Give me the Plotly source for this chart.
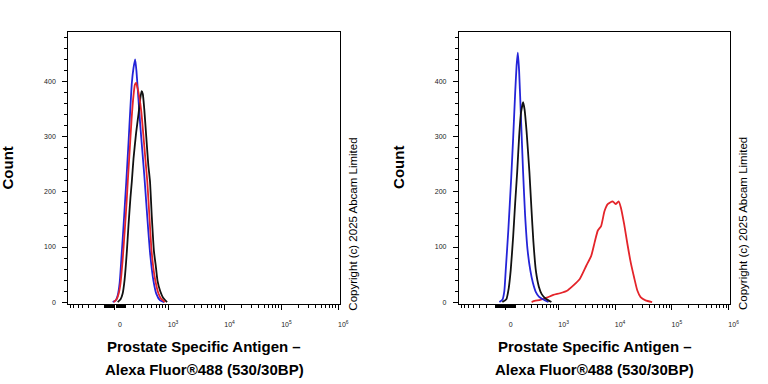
import numpy as np
import plotly.graph_objects as go

# ---------------- data (fluorescence intensity, event count) ----------------
L_BLUE_X = [-22, 7, 26, 45, 64, 84, 112, 136, 155, 174, 194, 215, 232, 259, 287, 318, 351, 386, 424, 465, 533, 608, 717, 846]
L_BLUE_Y = [0, 3, 12, 35, 85, 140, 219, 290, 347, 398, 425, 441, 420, 370, 320, 275, 230, 180, 130, 85, 40, 15, 3, 0]

L_RED_X = [-12, 16, 35, 54, 74, 94, 115, 128, 147, 170, 194, 212, 228, 245, 273, 303, 334, 368, 405, 444, 486, 533, 579, 659, 747, 881]
L_RED_Y = [0, 5, 15, 35, 75, 125, 180, 219, 270, 330, 375, 395, 398, 390, 372, 345, 305, 262, 219, 160, 100, 62, 40, 17, 6, 0]

L_BLACK_X = [26, 54, 74, 94, 118, 136, 158, 174, 194, 228, 259, 287, 307, 326, 351, 386, 424, 459, 498, 548, 595, 639, 717, 811, 959]
L_BLACK_Y = [0, 5, 15, 40, 92, 140, 190, 219, 260, 308, 340, 370, 383, 378, 350, 300, 250, 219, 155, 92, 65, 39, 20, 8, 0]

R_BLUE_X = [-60, -31, -12, 1, 26, 54, 74, 94, 109, 122, 136, 158, 182, 206, 239, 279, 318, 368, 424, 508, 650]
R_BLUE_Y = [0, 4, 20, 57, 130, 225, 300, 380, 430, 453, 420, 330, 236, 160, 95, 57, 35, 18, 10, 5, 0]

R_BLACK_X = [-31, 7, 30, 49, 74, 94, 115, 136, 158, 182, 200, 226, 265, 295, 326, 368, 424, 486, 579, 738]
R_BLACK_Y = [0, 5, 25, 57, 120, 180, 236, 300, 345, 363, 350, 310, 236, 170, 110, 57, 28, 14, 6, 0]

R_RED_X = [298, 346, 452, 608, 802, 1059, 1385, 1818, 2382, 3105, 3795, 4351, 4966, 5669, 6497, 7413,
           9058, 10337, 11519, 12631, 14476, 16520, 18849, 21601, 24662, 28131, 34362, 44934]
R_RED_Y = [0, 2, 4, 8, 13, 16, 20, 30, 42, 66, 84, 108, 130, 138, 165, 178, 183, 178, 183, 172, 141, 105,
           72, 45, 21, 9, 3, 0]

X_TICK_VALUES = [0, 1e3, 1e4, 1e5, 1e6]
X_TICK_LABELS = ["0", "10<sup>3</sup>", "10<sup>4</sup>", "10<sup>5</sup>", "10<sup>6</sup>"]
Y_TICK_VALUES = [0, 100, 200, 300, 400]
Y_TICK_LABELS = ["0", "100", "200", "300", "400"]

X_TITLE_1 = "Prostate Specific Antigen –"
X_TITLE_2 = "Alexa Fluor®488 (530/30BP)"
Y_TITLE = "Count"
COPYRIGHT = "Copyright (c) 2025 Abcam Limited"

# ---------------- biexponential-like display scale ----------------
W = 236.0


def biex(v):
    return np.arcsinh(np.asarray(v, dtype=float) / W) / np.log(10)


minor_int = []
for m in range(1, 10):
    minor_int += [m * 10, -m * 10, m * 100, -m * 100]
for dec in (1e3, 1e4, 1e5):
    minor_int += [m * dec for m in range(2, 10)]
MINOR_T = list(biex(minor_int))
X_RANGE = [-0.823, 3.958]

FONT = "Liberation Sans, Arial, sans-serif"
BLUE = "#2424d8"
RED = "#e4242a"
BLACK = "#111111"

FW, FH = 768, 384


def px(x):
    return x / FW


def py(y):
    return 1 - y / FH


fig = go.Figure()


def add(x, y, color, xa, ya):
    fig.add_trace(go.Scatter(x=biex(x), y=y, mode="lines",
                             line=dict(color=color, width=1.8, shape="spline", smoothing=0.5),
                             xaxis=xa, yaxis=ya, showlegend=False, hoverinfo="skip"))


add(L_BLUE_X, L_BLUE_Y, BLUE, "x", "y")
add(L_BLACK_X, L_BLACK_Y, BLACK, "x", "y")
add(L_RED_X, L_RED_Y, RED, "x", "y")
add(R_RED_X, R_RED_Y, RED, "x2", "y2")
add(R_BLUE_X, R_BLUE_Y, BLUE, "x2", "y2")
add(R_BLACK_X, R_BLACK_Y, BLACK, "x2", "y2")

y_dom = [py(305.3), py(31.7)]
doms = {"": [px(69), px(344)], "2": [px(464.3), px(739)]}

for k, dom in doms.items():
    fig.update_layout(**{
        "xaxis" + k: dict(
            domain=dom, range=X_RANGE, anchor="y" + k,
            tickmode="array", tickvals=list(biex(X_TICK_VALUES)), ticktext=X_TICK_LABELS,
            ticks="outside", ticklen=5, tickwidth=1, tickcolor="black",
            minor=dict(tickmode="array", tickvals=MINOR_T, ticks="outside", ticklen=3,
                       tickwidth=1, tickcolor="black", showgrid=False),
            showline=True, linecolor="black", linewidth=1, mirror=True,
            showgrid=False, zeroline=False,
            tickfont=dict(family=FONT, size=7, color="#222222"),
            ticklabelshift=5, ticklabelstandoff=9,
        ),
        "yaxis" + k: dict(
            domain=y_dom, range=[-3, 491.5], anchor="x" + k,
            tickmode="array", tickvals=Y_TICK_VALUES, ticktext=Y_TICK_LABELS,
            ticks="outside", ticklen=5, tickwidth=1, tickcolor="black",
            minor=dict(dtick=20, ticks="outside", ticklen=3, tickwidth=1,
                       tickcolor="black", showgrid=False),
            showline=True, linecolor="black", linewidth=1, mirror=True,
            showgrid=False, zeroline=False,
            tickfont=dict(family=FONT, size=7, color="#222222"),
            ticklabelstandoff=5,
        ),
    })

annotations = []
for dom, ytx, cpx in ((doms[""], 8, 357), (doms["2"], 403, 752)):
    cx = (dom[0] + dom[1]) / 2
    annotations += [
        dict(text="<b>" + X_TITLE_1 + "</b>", x=cx, y=py(348.5), xref="paper", yref="paper",
             showarrow=False, font=dict(family=FONT, size=15, color="black"),
             xanchor="center", yanchor="middle"),
        dict(text="<b>" + X_TITLE_2 + "</b>", x=cx, y=py(371.5), xref="paper", yref="paper",
             showarrow=False, font=dict(family=FONT, size=15, color="black"),
             xanchor="center", yanchor="middle"),
        dict(text="<b>" + Y_TITLE + "</b>", x=px(ytx), y=py(168.5), xref="paper", yref="paper",
             showarrow=False, textangle=-90, font=dict(family=FONT, size=15, color="black"),
             xanchor="center", yanchor="middle"),
        dict(text=COPYRIGHT, x=px(cpx), y=py(225), xref="paper", yref="paper",
             showarrow=False, textangle=-90, font=dict(family=FONT, size=11.5, color="black"),
             xanchor="center", yanchor="middle"),
    ]

fig.update_layout(width=FW, height=FH, margin=dict(l=0, r=0, t=0, b=0),
                  paper_bgcolor="white", plot_bgcolor="white", annotations=annotations,
                  showlegend=False)

# remove the browser's default 8px body margin so the figure fills the window exactly
fig.write_html("out.html", config={"displayModeBar": False},
               post_script="document.body.style.margin='0px';")
